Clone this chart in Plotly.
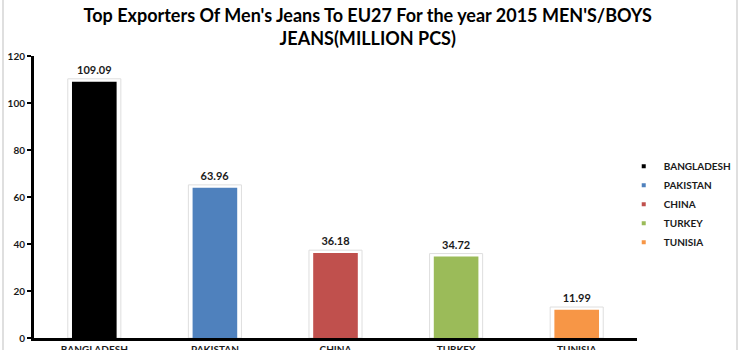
import plotly.graph_objects as go

countries = ["BANGLADESH", "PAKISTAN", "CHINA", "TURKEY", "TUNISIA"]
values = [109.09, 63.96, 36.18, 34.72, 11.99]
colors = ["#000000", "#4F81BD", "#C0504D", "#9BBB59", "#F79646"]
title_text = "Top Exporters Of Men's Jeans To EU27 For the year 2015 MEN'S/BOYS<br>JEANS(MILLION PCS)"

FONT = "Lato"
fig = go.Figure()

# soft halo behind bars (carries the value labels)
fig.add_trace(go.Bar(
    x=countries, y=[v + 1.2 for v in values], width=0.44,
    marker=dict(color="white", line=dict(color="#dedede", width=1)),
    text=[f"{v:.2f}" for v in values], textposition="outside",
    textfont=dict(family=FONT, size=11, color="#1a1a1a", weight="bold"),
    showlegend=False, hoverinfo="skip", cliponaxis=False,
))
fig.add_trace(go.Bar(
    x=countries, y=values, width=0.37,
    marker=dict(color=colors, line=dict(width=0)),
    showlegend=False, cliponaxis=False,
))
for c, col in zip(countries, colors):
    fig.add_trace(go.Scatter(
        x=[None], y=[None], mode="markers", name=c,
        marker=dict(symbol="square", size=4, color=col),
    ))

fig.update_layout(
    width=740, height=350,
    margin=dict(l=34, r=103, t=56, b=12, autoexpand=False),
    paper_bgcolor="white", plot_bgcolor="white",
    barmode="overlay",
    title=dict(text=title_text, x=0.497, xanchor="center", y=0.937, yanchor="middle",
               yref="container", automargin=False,
               font=dict(family=FONT, size=18, color="#000000", weight="bold")),
    xaxis=dict(showline=True, linecolor="black", linewidth=3, ticks="",
               tickfont=dict(family=FONT, size=10, color="#1a1a1a", weight="bold"),
               showgrid=False, fixedrange=True, automargin=False),
    yaxis=dict(range=[0, 120], dtick=20, showline=True, linecolor="black", linewidth=3,
               ticks="outside", ticklen=4, tickwidth=2, tickcolor="black",
               tickfont=dict(family=FONT, size=10, color="#1a1a1a", weight="bold"),
               showgrid=False, zeroline=False, automargin=False),
    legend=dict(x=0.978, xanchor="left", y=0.474, yanchor="middle",
                font=dict(family=FONT, size=10, color="#1a1a1a", weight="bold"),
                itemwidth=30, tracegroupgap=2, bgcolor="rgba(0,0,0,0)"),
    showlegend=True,
    shapes=[dict(type="rect", xref="paper", yref="paper",
                 x0=-31 / 603, x1=(737 - 34) / 603, y0=-20 / 282, y1=1.3,
                 line=dict(color="#bfbfbf", width=1))],
)

fig.write_html("out.html")
